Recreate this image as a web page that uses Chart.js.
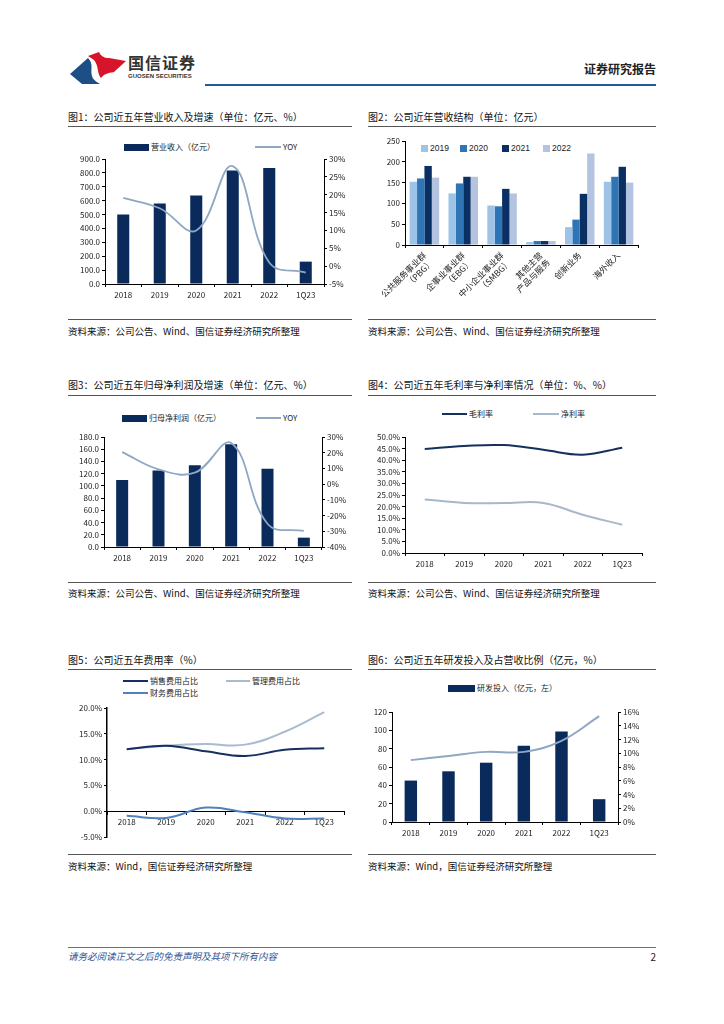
<!DOCTYPE html>
<html><head><meta charset="utf-8">
<script src="https://cdn.jsdelivr.net/npm/chart.js@4.4.1/dist/chart.umd.min.js"></script>
<style>
body{margin:0;background:#fff;}
#page{position:relative;width:724px;height:1024px;overflow:hidden;font-family:'Noto Sans CJK SC','Noto Sans',sans-serif;color:#111;background:#fff;}
.t{position:absolute;white-space:nowrap;}
.r{position:absolute;}
canvas{position:absolute;}
</style></head>
<body><div id="page">
<svg class="r" style="left:68px;top:50px" width="60" height="36" viewBox="0 0 60 36">
  <path d="M2,24 L20,8 C26,14 22,20 24,26 C25,30 29,32 32,34 L14,34 C10,31 6,27 2,24 Z" fill="#1d4f86"/>
  <path d="M20,6 L31,2 C33,6 36,8 41,8 L58,11 L46,22 C40,23 36,24 33,28 C29,24 31,16 26,10 Z" fill="#d7142a"/>
</svg>
<div class="t" style="left:128px;top:52px;font-size:16px;line-height:20px;font-weight:700;color:#333;letter-spacing:1px">国信证券</div>
<div class="t" style="left:128px;top:72px;font-size:6px;line-height:8px;font-weight:700;color:#333;font-family:'Liberation Sans',sans-serif">GUOSEN SECURITIES</div>
<div class="r" style="left:205px;top:84px;width:451px;height:2px;background:#1f5c99"></div>
<div class="t" style="right:68px;top:61px;font-size:12px;line-height:16px;font-weight:700;color:#222">证券研究报告</div>
<div class="r" style="left:68px;top:947px;width:588px;height:1px;background:#4a78a8"></div>
<div class="t" style="left:68px;top:950px;font-size:9.5px;line-height:13px;font-style:italic;color:#2f5597">请务必阅读正文之后的免责声明及其项下所有内容</div>
<div class="t" style="right:68px;top:950px;font-size:10px;line-height:13px;color:#222">2</div>
</div>
<script>
// ---------- data ----------
const years = ['2018', '2019', '2020', '2021', '2022', '1Q23'];
const revenue = [500, 580, 638, 817, 835, 161];
const revenueYoy = [19.1, 16.2, 10.0, 28.0, 1.0, -1.8];
const segSeries = ['2019', '2020', '2021', '2022'];
const segCats = [['公共服务事业群', '（PBG）'], ['企事业事业群', '（EBG）'], ['中小企业事业群', '（SMBG）'], ['其他主营', '产品与服务'], '创新业务', '海外收入'];
const seg2019 = [152, 124, 95, 7, 43, 152];
const seg2020 = [160, 148, 93, 9.5, 61, 164];
const seg2021 = [190, 164, 135, 9.5, 123, 188];
const seg2022 = [162, 164, 124, 9.5, 220, 150];
const netProfit = [109.6, 125, 133.6, 168, 128, 15.3];
const netProfitYoy = [20.4, 9.4, 7.3, 26.2, -25.2, -29.8];
const grossMargin = [44.8, 46.1, 46.5, 44.5, 42.4, 45.4];
const netMargin = [23.1, 21.6, 21.5, 21.6, 16.5, 12.2];
const sellingRatio = [12.0, 12.7, 11.6, 10.7, 11.9, 12.2];
const adminRatio = [12.0, 12.7, 13.0, 12.9, 15.4, 19.2];
const financeRatio = [-0.9, -1.3, 0.7, -0.2, -1.4, -1.4];
const rdSpend = [45.2, 55.3, 64.7, 83.1, 98.7, 24.9];
const rdRatio = [9.0, 9.6, 10.2, 10.2, 11.8, 15.4];

const titles = {
  c1: '图1：公司近五年营业收入及增速（单位：亿元、%）',
  c2: '图2：公司近年营收结构（单位：亿元）',
  c3: '图3：公司近五年归母净利润及增速（单位：亿元、%）',
  c4: '图4：公司近五年毛利率与净利率情况（单位：%、%）',
  c5: '图5：公司近五年费用率（%）',
  c6: '图6：公司近五年研发投入及占营收比例（亿元，%）'
};
const srcA = '资料来源：公司公告、Wind、国信证券经济研究所整理';
const srcB = '资料来源：Wind，国信证券经济研究所整理';

// ---------- colours ----------
const NAVY = '#0a2a5c';
const YOYC = '#8ea7c2';

const page = document.getElementById('page');
function el(tag, css, text) {
  const e = document.createElement(tag);
  e.style.cssText = css;
  if (text !== undefined) e.textContent = text;
  page.appendChild(e);
  return e;
}
function text(x, y, s, size, extra) {
  el('div', `position:absolute;white-space:nowrap;left:${x}px;top:${y - 7}px;line-height:14px;font-size:${size}px;${extra || ''}`, s);
}
function rule(x, y, w, color) {
  el('div', `position:absolute;left:${x}px;top:${y}px;width:${w}px;height:1px;background:${color || '#555'}`);
}
function legBox(x, y, w, h, color, s) {
  el('div', `position:absolute;left:${x}px;top:${y - h / 2}px;width:${w}px;height:${h}px;background:${color}`);
  text(x + w + 2, y, s, 8, 'color:#222');
}
function legLine(x, y, w, color, s) {
  el('div', `position:absolute;left:${x}px;top:${y - 1}px;width:${w}px;height:2px;background:${color}`);
  text(x + w + 2, y, s, 8, 'color:#222');
}

// panel frames
function panel(x, tY, w, title, ruleY, srcRuleY, srcY, src) {
  text(x, tY, title, 10, 'color:#111');
  rule(x, ruleY, w, '#555');
  rule(x, srcRuleY, w, '#555');
  text(x, srcY, src, 9.5, 'color:#111');
}
panel(68, 117, 284, titles.c1, 126, 319, 331, srcA);
panel(368, 117, 288, titles.c2, 126, 319, 331, srcA);
panel(68, 385, 284, titles.c3, 395, 582, 593, srcA);
panel(368, 385, 288, titles.c4, 395, 582, 593, srcA);
panel(68, 660, 284, titles.c5, 669, 854, 866, srcB);
panel(368, 660, 288, titles.c6, 669, 854, 866, srcB);

// ---------- chart helpers ----------
Chart.defaults.font.family = "'Noto Sans CJK SC','Noto Sans',sans-serif";
Chart.defaults.font.size = 8;
Chart.defaults.color = '#222';
Chart.defaults.animation = false;
Chart.defaults.plugins.legend.display = false;
Chart.defaults.plugins.tooltip.enabled = false;

function canvasAt(l, t, w, h) {
  const c = el('canvas', `left:${l}px;top:${t}px;width:${w}px;height:${h}px`);
  c.width = w; c.height = h;
  return c.getContext('2d');
}
function yAxis(pos, width, min, max, step, fmt, extra) {
  return Object.assign({
    type: 'linear', position: pos, min: min, max: max,
    border: { display: true, color: '#000', width: 1 },
    grid: { display: true, drawOnChartArea: false, drawTicks: true, tickLength: 3, color: '#000' },
    ticks: { stepSize: step, padding: 2, autoSkip: false, callback: fmt, font: { size: 8 }, color: '#222' },
    afterFit(s) { s.width = width; s.paddingTop = 0; s.paddingBottom = 0; }
  }, extra || {});
}
function xAxis(height, extra) {
  return Object.assign({
    type: 'category', offset: true,
    border: { display: true, color: '#000', width: 1 },
    grid: { display: true, offset: true, drawOnChartArea: false, tickLength: 3, color: '#000' },
    ticks: { padding: 3, maxRotation: 0, minRotation: 0, autoSkip: false, font: { size: 8 }, color: '#222' },
    afterFit(s) { s.height = height; s.paddingLeft = 0; s.paddingRight = 0; }
  }, extra || {});
}
const f1 = v => v.toFixed(1);
const fInt = v => String(v);
const fPct = v => v + '%';
const fPct1 = v => v.toFixed(1) + '%';

// ---------- Chart 1 ----------
legBox(124, 147, 25, 7, NAVY, '营业收入（亿元）');
legLine(255, 147, 26, YOYC, 'YOY');
new Chart(canvasAt(68, 150, 292, 155), {
  data: {
    labels: years,
    datasets: [
      { type: 'line', label: 'YOY', data: revenueYoy, yAxisID: 'y2', borderColor: YOYC, borderWidth: 1.8, pointRadius: 0, tension: 0.4, order: 0 },
      { type: 'bar', label: '营业收入（亿元）', data: revenue, yAxisID: 'y', backgroundColor: NAVY, categoryPercentage: 1, barPercentage: 0.33, order: 1 }
    ]
  },
  options: {
    responsive: false,
    layout: { padding: { top: 9, right: 0, left: 0, bottom: 0 } },
    scales: {
      x: xAxis(21),
      y: yAxis('left', 37, 0, 900, 100, f1),
      y2: yAxis('right', 36, -5, 30, 5, fPct)
    }
  }
});

// ---------- Chart 2 ----------
const segColors = ['#9dc3e6', '#2e75b6', '#0a2f63', '#b4c4e0'];
const segData = [seg2019, seg2020, seg2021, seg2022];
[421, 460, 502, 543].forEach((x, i) => {
  el('div', `position:absolute;left:${x}px;top:${148 - 3.5}px;width:7px;height:7px;background:${segColors[i]}`);
  text(x + 9, 148, segSeries[i], 8.5, 'color:#222;font-family:Liberation Sans,sans-serif');
});
new Chart(canvasAt(368, 135, 290, 170), {
  type: 'bar',
  data: {
    labels: segCats,
    datasets: segSeries.map((s, i) => ({ label: s, data: segData[i], backgroundColor: segColors[i], categoryPercentage: 0.76, barPercentage: 1 }))
  },
  options: {
    responsive: false,
    layout: { padding: { top: 6, right: 20, left: 0, bottom: 0 } },
    scales: {
      x: xAxis(60, { ticks: { padding: 2, maxRotation: 45, minRotation: 45, autoSkip: false, font: { size: 8.5 }, color: '#222' } }),
      y: yAxis('left', 37, 0, 250, 50, fInt)
    }
  }
});

// ---------- Chart 3 ----------
legBox(122, 418, 25, 7, NAVY, '归母净利润（亿元）');
legLine(256, 418, 25, YOYC, 'YOY');
new Chart(canvasAt(68, 430, 292, 135), {
  data: {
    labels: years,
    datasets: [
      { type: 'line', label: 'YOY', data: netProfitYoy, yAxisID: 'y2', borderColor: YOYC, borderWidth: 1.8, pointRadius: 0, tension: 0.4, order: 0 },
      { type: 'bar', label: '归母净利润（亿元）', data: netProfit, yAxisID: 'y', backgroundColor: NAVY, categoryPercentage: 1, barPercentage: 0.33, order: 1 }
    ]
  },
  options: {
    responsive: false,
    layout: { padding: { top: 7, right: 0, left: 0, bottom: 0 } },
    scales: {
      x: xAxis(18),
      y: yAxis('left', 36, 0, 180, 20, f1),
      y2: yAxis('right', 38, -40, 30, 10, fPct)
    }
  }
});

// ---------- Chart 4 ----------
const GM = '#15305f', NM = '#a7b8cc';
legLine(442, 414, 25, GM, '毛利率');
legLine(533, 414, 26, NM, '净利率');
new Chart(canvasAt(368, 430, 290, 140), {
  type: 'line',
  data: {
    labels: years,
    datasets: [
      { label: '毛利率', data: grossMargin, borderColor: GM, borderWidth: 2, pointRadius: 0, tension: 0.4 },
      { label: '净利率', data: netMargin, borderColor: NM, borderWidth: 2, pointRadius: 0, tension: 0.4 }
    ]
  },
  options: {
    responsive: false,
    layout: { padding: { top: 7, right: 16, left: 0, bottom: 0 } },
    scales: {
      x: xAxis(17),
      y: yAxis('left', 37, 0, 50, 5, fPct1)
    }
  }
});

// ---------- Chart 5 ----------
const SC = '#15305f', AC = '#a9bbd0', FC = '#4f81bd';
legLine(123, 681, 25, SC, '销售费用占比');
legLine(226, 681, 24, AC, '管理费用占比');
legLine(123, 693, 25, FC, '财务费用占比');
new Chart(canvasAt(68, 700, 292, 145), {
  type: 'line',
  data: {
    labels: years,
    datasets: [
      { label: '销售费用占比', data: sellingRatio, borderColor: SC, borderWidth: 2, pointRadius: 0, tension: 0.4 },
      { label: '管理费用占比', data: adminRatio, borderColor: AC, borderWidth: 2, pointRadius: 0, tension: 0.4 },
      { label: '财务费用占比', data: financeRatio, borderColor: FC, borderWidth: 2, pointRadius: 0, tension: 0.4 }
    ]
  },
  options: {
    responsive: false,
    layout: { padding: { top: 8, right: 16, left: 0, bottom: 8 } },
    scales: {
      x: xAxis(12, { position: { y: 0 } }),
      y: yAxis('left', 39, -5, 20, 5, fPct1, { border: { display: true, color: '#000', width: 1.5 } })
    }
  }
});

// ---------- Chart 6 ----------
legBox(448, 688, 27, 7, NAVY, '研发投入（亿元，左）');
new Chart(canvasAt(368, 700, 292, 145), {
  data: {
    labels: years,
    datasets: [
      { type: 'line', label: '研发投入占营收比例', data: rdRatio, yAxisID: 'y2', borderColor: YOYC, borderWidth: 2, pointRadius: 0, tension: 0.4, order: 0 },
      { type: 'bar', label: '研发投入（亿元，左）', data: rdSpend, yAxisID: 'y', backgroundColor: NAVY, categoryPercentage: 1, barPercentage: 0.33, order: 1 }
    ]
  },
  options: {
    responsive: false,
    layout: { padding: { top: 12, right: 0, left: 0, bottom: 0 } },
    scales: {
      x: xAxis(23),
      y: yAxis('left', 24, 0, 120, 20, fInt),
      y2: yAxis('right', 42, 0, 16, 2, fPct)
    }
  }
});
</script>
</body></html>
